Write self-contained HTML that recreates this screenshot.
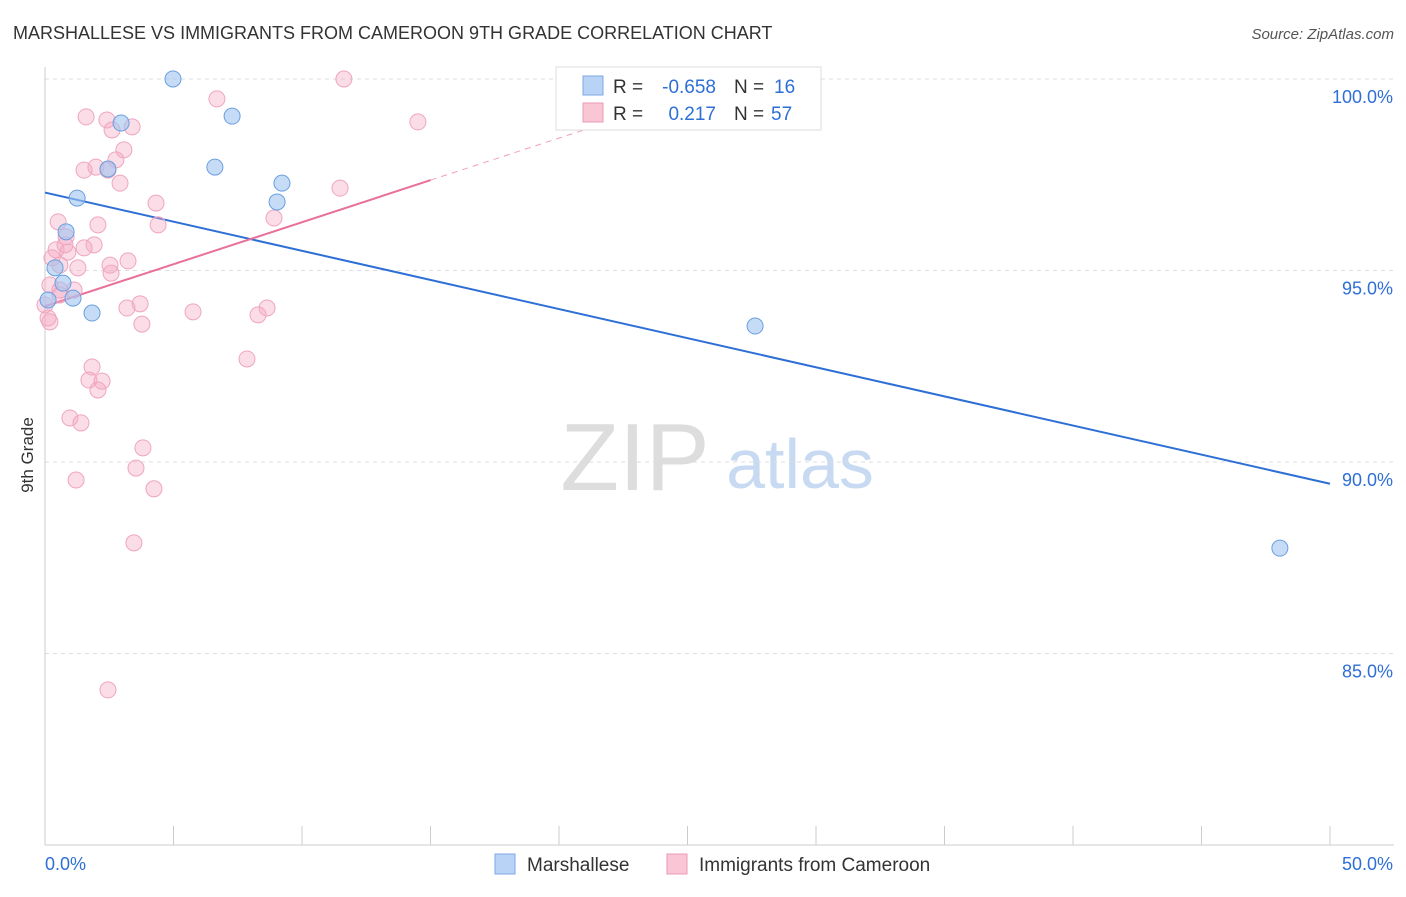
<!DOCTYPE html>
<html><head><meta charset="utf-8"><style>
body{margin:0;background:#fff;font-family:"Liberation Sans",sans-serif}
svg text{font-family:"Liberation Sans",sans-serif}
</style></head><body>
<svg id="chart" width="1406" height="892" xmlns="http://www.w3.org/2000/svg">
<text x="13" y="39" font-size="18" fill="#333">MARSHALLESE VS IMMIGRANTS FROM CAMEROON 9TH GRADE CORRELATION CHART</text>
<text x="1394" y="39" font-size="15" fill="#555" font-style="italic" text-anchor="end">Source: ZipAtlas.com</text>
<text transform="translate(33,455) rotate(-90)" font-size="17" fill="#333" text-anchor="middle">9th Grade</text>
<g><text x="635" y="490" font-size="96" fill="#ddd" font-family="Liberation Serif" text-anchor="middle">ZIP</text><text x="800" y="488" font-size="70" fill="#c8daf2" text-anchor="middle">atlas</text></g>
<g id="grid"></g><g id="axes"></g><g id="lines"></g><g id="pts"></g>
<g>
<rect x="556" y="67" width="265" height="63" fill="#fff" stroke="#ddd"/>
<rect x="583" y="76" width="20" height="19" fill="#b8d3f5" stroke="#7aa8e6"/>
<rect x="583" y="103" width="20" height="19" fill="#f9c6d5" stroke="#ec9ab5"/>
<text x="613" y="93" font-size="19" fill="#333">R =</text>
<text x="716" y="93" font-size="19" fill="#2e6fd6" text-anchor="end">-0.658</text>
<text x="734" y="93" font-size="19" fill="#333">N =</text>
<text x="774" y="93" font-size="19" fill="#2e6fd6">16</text>
<text x="613" y="120" font-size="19" fill="#333">R =</text>
<text x="716" y="120" font-size="19" fill="#2e6fd6" text-anchor="end">0.217</text>
<text x="734" y="120" font-size="19" fill="#333">N =</text>
<text x="771" y="120" font-size="19" fill="#2e6fd6">57</text>
</g>
<g>
<rect x="495" y="854" width="20" height="20" fill="#b8d3f5" stroke="#7aa8e6"/>
<text x="527" y="871" font-size="19" fill="#333">Marshallese</text>
<rect x="667" y="854" width="20" height="20" fill="#f9c6d5" stroke="#ec9ab5"/>
<text x="699" y="871" font-size="19" fill="#333">Immigrants from Cameroon</text>
</g>
</svg>
<script>
const yTicks=[100,95,90,85];
const yTickLabels=["100.0%","95.0%","90.0%","85.0%"];
const xTickLabels=["0.0%","50.0%"];
const blueX=[4.98,2.96,7.28,6.61,2.45,9.22,1.25,9.03,0.82,0.39,0.70,1.09,0.12,1.83,27.63,48.05];
const blueY=[100.0,98.85,99.03,97.70,97.65,97.28,96.89,96.79,96.01,95.07,94.67,94.28,94.23,93.89,93.55,87.75];
const pinkX=[11.63,6.69,1.60,2.41,3.39,2.61,14.51,3.07,2.76,1.98,1.52,2.45,2.92,11.48,4.32,0.51,8.91,4.40,2.06,0.82,1.91,0.43,1.52,0.89,3.23,0.27,0.58,1.28,2.57,0.19,1.13,0.58,3.70,3.19,8.64,8.29,5.76,3.77,0.12,0.19,7.86,1.83,1.71,2.22,2.06,0.97,1.40,3.81,3.54,1.21,4.24,3.46,2.45,0.58,0.0,0.78,2.53];
const pinkY=[100.0,99.48,99.01,98.93,98.75,98.67,98.88,98.15,97.89,97.70,97.62,97.62,97.28,97.15,96.76,96.27,96.37,96.19,96.19,95.88,95.67,95.54,95.59,95.48,95.25,95.33,95.14,95.07,94.93,94.62,94.49,94.36,94.13,94.02,94.02,93.84,93.92,93.60,93.76,93.66,92.69,92.48,92.14,92.11,91.88,91.15,91.02,90.37,89.84,89.53,89.30,87.89,84.05,94.49,94.10,95.67,95.14];
const NS="http://www.w3.org/2000/svg";
const X=v=>45+v/50*1285, Y=v=>79+(100-v)*38.3;
function mk(t,a,p){const e=document.createElementNS(NS,t);for(const k in a)e.setAttribute(k,a[k]);document.getElementById(p).appendChild(e);return e;}
yTicks.forEach((t,i)=>{
 const g=mk('line',{x1:45,x2:1394,y1:Y(t),y2:Y(t),stroke:'#ddd','stroke-dasharray':'4,4'},'grid');
 
 
 const l=mk('text',{x:1393,y:Y(t)+24,'font-size':18,fill:'#2e6fd6','text-anchor':'end'},'grid');
 
 
 l.textContent=yTickLabels[i];
});
const ax=mk('line',{x1:45,x2:45,y1:67,y2:845,stroke:'#ccc'},'axes');


const bx=mk('line',{x1:45,x2:1394,y1:845,y2:845,stroke:'#ccc'},'axes');


for(let i=0;i<=10;i++){const t=mk('line',{x1:X(i*5),x2:X(i*5),y1:826,y2:845,stroke:'#ccc'},'axes');
 
 }
[[0,45,'start'],[1,1393,'end']].forEach(([i,x,a])=>{const t=mk('text',{x:x,y:870,'font-size':18,fill:'#2e6fd6','text-anchor':a},'axes');
 
 
 t.textContent=xTickLabels[i];});
function fit(xs,ys){const n=xs.length;let mx=0,my=0;for(let i=0;i<n;i++){mx+=xs[i];my+=ys[i];}mx/=n;my/=n;let sxy=0,sxx=0;for(let i=0;i<n;i++){sxy+=(xs[i]-mx)*(ys[i]-my);sxx+=(xs[i]-mx)**2;}const b=sxy/sxx;return [my-b*mx,b];}
const [ba,bb]=fit(blueX,blueY);
const bl=mk('line',{x1:X(0),y1:Y(ba),x2:X(50),y2:Y(ba+bb*50),stroke:'#2e6fd6','stroke-width':2},'lines');


const [pa,pb]=fit(pinkX,pinkY);
const pmax=Math.max(...pinkX)+0.5;
const pl=mk('line',{x1:X(0),y1:Y(pa),x2:X(pmax),y2:Y(pa+pb*pmax),stroke:'#e8709a','stroke-width':2},'lines');


let xe=Math.min(50,(100.3-pa)/pb);
const pd=mk('line',{x1:X(pmax),y1:Y(pa+pb*pmax),x2:X(xe),y2:Y(pa+pb*xe),stroke:'#f0a0bc','stroke-width':1,'stroke-dasharray':'6,5'},'lines');


pinkX.forEach((x,i)=>{const c=mk('circle',{cx:X(x),cy:Y(pinkY[i]),r:8,fill:'rgba(245,170,195,0.4)',stroke:'#efa5bf','stroke-width':1},'pts');
 
 });
blueX.forEach((x,i)=>{const c=mk('circle',{cx:X(x),cy:Y(blueY[i]),r:8,fill:'rgba(160,196,240,0.6)',stroke:'#6a9fe0','stroke-width':1},'pts');
 
 });
</script>
</body></html>
